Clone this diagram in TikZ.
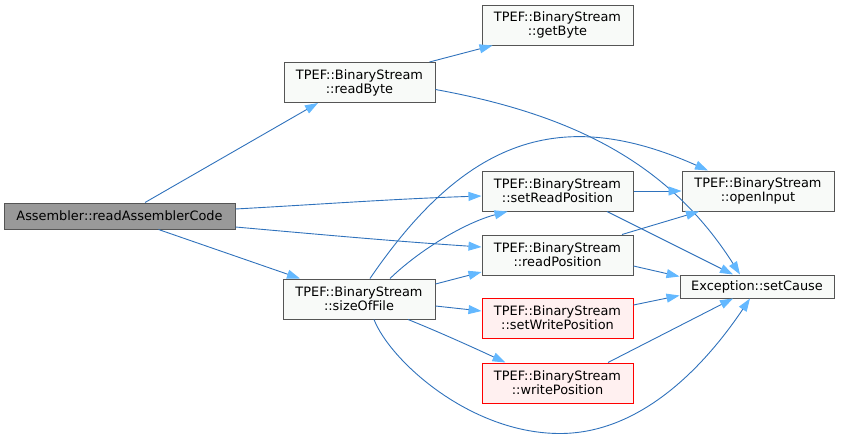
\documentclass[tikz,border=0pt]{standalone}
\usepackage{fontspec}
\setmainfont{DejaVu Sans}
\usetikzlibrary{arrows.meta,calc}
\definecolor{edgec}{HTML}{2F72BC}
\definecolor{headc}{HTML}{63B8FF}
\definecolor{bordc}{HTML}{555555}
\definecolor{boxf}{HTML}{F8FAF8}
\definecolor{asmf}{HTML}{999999}
\definecolor{redf}{HTML}{FFF0F0}
\begin{document}
\begin{tikzpicture}[x=1pt,y=-1pt,
  box/.style={draw=bordc, fill=boxf, line width=1pt, inner sep=0pt,
    minimum width=151pt, minimum height=40pt, align=center,
    font=\fontsize{12.9}{14}\selectfont},
  redbox/.style={box, draw=red, fill=redf},
  e/.style={draw=edgec, line width=0.9pt,
    -{Triangle[length=13pt,width=9pt,color=headc]}}]
\useasboundingbox (0,0) rectangle (841,439);

\node[box, fill=asmf, minimum width=231pt, minimum height=26pt] (asm) at (119.5,216) {Assembler::readAssemblerCode};
\node[box] (rb) at (359.5,82.5) {TPEF::BinaryStream\\::readByte};
\node[box] (gb) at (557.5,25) {TPEF::BinaryStream\\::getByte};
\node[box] (srp) at (557.5,191) {TPEF::BinaryStream\\::setReadPosition};
\node[box] (rp) at (557.5,255) {TPEF::BinaryStream\\::readPosition};
\node[box, minimum width=152pt] (sof) at (359,299) {TPEF::BinaryStream\\::sizeOfFile};
\node[redbox] (swp) at (557.5,318) {TPEF::BinaryStream\\::setWritePosition};
\node[redbox] (wp) at (557.5,383) {TPEF::BinaryStream\\::writePosition};
\node[box, minimum width=152pt] (oi) at (758,191) {TPEF::BinaryStream\\::openInput};
\node[box, minimum width=154pt, minimum height=23pt] (sc) at (757,286.5) {Exception::setCause};

\coordinate (low) at ($(wp.south)+(2.5,30)$);

% from Assembler::readAssemblerCode
\draw[e] ($(asm.north)+(25.5,0)$) -- ($(rb.south)+(-41.5,0)$);
\draw[e] ($(asm.east)+(0,-7)$) .. controls +(90,-5) and +(-90,3) .. ($(srp.west)+(0,5)$);
\draw[e] ($(asm.east)+(0,11)$) .. controls +(90,8) and +(-90,-6) .. ($(rp.west)+(0,-8)$);
\draw[e] ($(asm.south)+(39,0)$) -- ($(sof.north)+(-59,0)$);

% from readByte
\draw[e] ($(rb.north)+(70,0)$) -- ($(gb.south)+(-65,0)$);
\draw[e] ($(rb.east)+(0,7)$) .. controls +(140,25.5) and +(-70,-110) .. ($(sc.north)+(-17,0)$);

% from sizeOfFile
\draw[e] ($(sof.north)+(11,0)$) .. controls +(95,-139) and +(-148,-66) .. ($(oi.north)+(-50,0)$);
\draw[e] ($(sof.north)+(31,0)$) .. controls +(30,-29) and +(-42,11) .. ($(srp.south)+(-50,0)$);
\draw[e] ($(sof.east)+(0,-15)$) -- ($(rp.west)+(0,17)$);
\draw[e] ($(sof.east)+(0,7)$) -- ($(swp.west)+(0,-7)$);
\draw[e] ($(sof.south)+(49,0)$) .. controls +(30,12) and +(-30,-14) .. ($(wp.north)+(-52,0)$);
\draw[e] ($(sof.south)+(15,0)$) .. controls +(16,41) and +(-90,0) .. (low)
  .. controls +(90,0) and +(-35,52) .. ($(sc.south)+(-7,0)$);

% from setReadPosition
\draw[e] (srp.east) -- (oi.west);
\draw[e] ($(srp.south)+(49.5,0)$) -- ($(sc.north)+(-24,0)$);

% from readPosition
\draw[e] ($(rp.north)+(64.5,0)$) -- ($(oi.south)+(-59,0)$);
\draw[e] ($(rp.east)+(0,11)$) -- ($(sc.west)+(0,-10)$);

% from setWritePosition
\draw[e] ($(swp.east)+(0,-13)$) -- ($(sc.west)+(0,9)$);

% from writePosition
\draw[e] ($(wp.north)+(50.5,0)$) -- ($(sc.south)+(-24,0)$);
\end{tikzpicture}
\end{document}
